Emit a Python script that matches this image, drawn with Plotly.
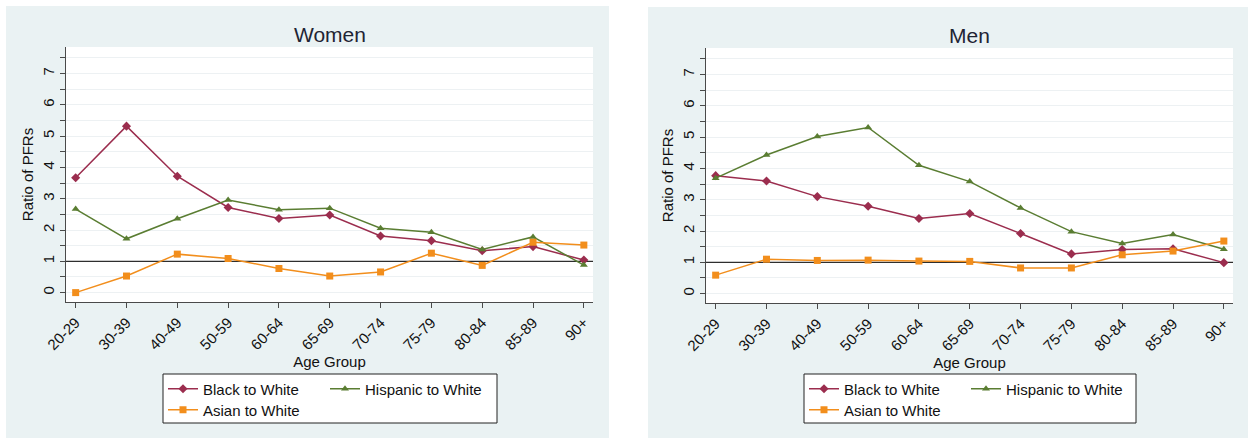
import plotly.graph_objects as go

W, H = 1249, 442

age_groups = ["20-29", "30-39", "40-49", "50-59", "60-64", "65-69",
              "70-74", "75-79", "80-84", "85-89", "90+"]

women_black = [3.67, 5.32, 3.72, 2.72, 2.37, 2.48, 1.81, 1.66, 1.34, 1.47, 1.04]
women_hispanic = [2.67, 1.72, 2.36, 2.96, 2.65, 2.70, 2.06, 1.93, 1.38, 1.78, 0.88]
women_asian = [0.00, 0.53, 1.23, 1.09, 0.77, 0.53, 0.66, 1.26, 0.87, 1.61, 1.52]

men_black = [3.77, 3.60, 3.10, 2.79, 2.40, 2.56, 1.92, 1.27, 1.41, 1.43, 0.99]
men_hispanic = [3.69, 4.43, 5.02, 5.31, 4.10, 3.58, 2.74, 1.98, 1.60, 1.89, 1.42]
men_asian = [0.59, 1.10, 1.06, 1.07, 1.04, 1.03, 0.82, 0.82, 1.24, 1.36, 1.68]

series_names = ["Black to White", "Hispanic to White", "Asian to White"]
series_colors = ["#9b2d4e", "#5a7d32", "#f28e1c"]
series_symbols = ["diamond", "triangle-up", "square"]

FONT = "Liberation Sans, Arial, sans-serif"
PANEL_BG = "#eaf2f3"
AXIS_COLOR = "#4a4a4a"
GRID_COLOR = "#edf1f3"
X_RANGE = [-0.19, 10.18]
Y_RANGE = [-0.3, 7.85]
PARITY = 1


def px_x(v):
    return v / W


def px_y(v):
    return 1 - v / H


fig = go.Figure()

panels = [
    ("x", "y", [women_black, women_hispanic, women_asian], ["legend", "legend", "legend2"]),
    ("x2", "y2", [men_black, men_hispanic, men_asian], ["legend3", "legend3", "legend4"]),
]

for xa, ya, values, legends in panels:
    for name, color, symbol, vals, lg in zip(series_names, series_colors,
                                             series_symbols, values, legends):
        fig.add_trace(go.Scatter(
            x=age_groups, y=vals, name=name, mode="lines+markers",
            xaxis=xa, yaxis=ya, legend=lg,
            line=dict(color=color, width=1.5),
            marker=dict(symbol=symbol, size=7, color=color, line=dict(width=0)),
        ))

# plot-area rectangles in pixels: (left, top, right, bottom)
areas = [(66, 47, 593, 302), (706, 48, 1233, 303)]


def x_axis(domain):
    return dict(
        domain=domain, type="category", range=X_RANGE, automargin=False,
        showline=True, linecolor=AXIS_COLOR, linewidth=1,
        ticks="outside", ticklen=5, tickcolor=AXIS_COLOR, tickangle=-45,
        tickfont=dict(size=15, color="#111"), showgrid=False, zeroline=False,
        title=dict(text="Age Group", font=dict(size=15, color="#111"), standoff=0),
    )


def y_axis(domain):
    return dict(
        domain=domain, range=Y_RANGE, tick0=0, dtick=1, automargin=False,
        showline=True, linecolor=AXIS_COLOR, linewidth=1,
        ticks="outside", ticklen=5, tickcolor=AXIS_COLOR, tickangle=-90,
        tickfont=dict(size=15, color="#111"),
        showgrid=True, gridcolor=GRID_COLOR, gridwidth=1, zeroline=False,
        minor=dict(dtick=0.5, ticks="outside", ticklen=5, tickcolor=AXIS_COLOR,
                   showgrid=True, gridcolor=GRID_COLOR, gridwidth=1),
        title=dict(text="Ratio of PFRs", font=dict(size=15, color="#111"), standoff=2),
    )


(l1, t1, r1, b1), (l2, t2, r2, b2) = areas
fig.update_layout(
    xaxis=dict(x_axis([px_x(l1), px_x(r1)]), anchor="y"),
    yaxis=dict(y_axis([px_y(b1), px_y(t1)]), anchor="x"),
    xaxis2=dict(x_axis([px_x(l2), px_x(r2)]), anchor="y2"),
    yaxis2=dict(y_axis([px_y(b2), px_y(t2)]), anchor="x2"),
)

shapes = []
# panel backgrounds
for x0, y0, x1, y1 in [(6, 6, 609, 438), (648, 7, 1248, 438)]:
    shapes.append(dict(type="rect", xref="paper", yref="paper",
                       x0=px_x(x0), x1=px_x(x1), y0=px_y(y1), y1=px_y(y0),
                       fillcolor=PANEL_BG, line=dict(width=0), layer="below"))
# white plot regions
for x0, y0, x1, y1 in areas:
    shapes.append(dict(type="rect", xref="paper", yref="paper",
                       x0=px_x(x0), x1=px_x(x1), y0=px_y(y1), y1=px_y(y0),
                       fillcolor="white", line=dict(width=0), layer="below"))
# reference line at ratio 1, between the grid and the data
for xa, ya in [("x", "y"), ("x2", "y2")]:
    shapes.append(dict(type="line", xref=xa, yref=ya,
                       x0=X_RANGE[0], x1=X_RANGE[1], y0=PARITY, y1=PARITY,
                       line=dict(color="#2e2e2e", width=1.3), layer="between"))
# legend frames
for x0, y0, x1, y1 in [(163, 374, 497, 423), (804, 374, 1136, 423)]:
    shapes.append(dict(type="rect", xref="paper", yref="paper",
                       x0=px_x(x0), x1=px_x(x1), y0=px_y(y1), y1=px_y(y0),
                       fillcolor="white", line=dict(width=1, color="#222"), layer="above"))

legend_common = dict(orientation="h", xanchor="left", yanchor="middle",
                     bgcolor="rgba(0,0,0,0)", borderwidth=0,
                     font=dict(size=15, color="#111", family=FONT),
                     entrywidth=117, itemwidth=30)

fig.update_layout(
    width=W, height=H,
    margin=dict(l=0, r=0, t=0, b=0, autoexpand=False),
    paper_bgcolor="white", plot_bgcolor="white",
    font=dict(family=FONT, size=15, color="#111"),
    shapes=shapes,
    legend=dict(legend_common, x=px_x(163), y=px_y(389)),
    legend2=dict(legend_common, x=px_x(163), y=px_y(410)),
    legend3=dict(legend_common, x=px_x(804), y=px_y(389)),
    legend4=dict(legend_common, x=px_x(804), y=px_y(410)),
    annotations=[
        dict(text="Women", x=px_x(329.5), y=px_y(34.5), xref="paper", yref="paper",
             showarrow=False, xanchor="center", yanchor="middle",
             font=dict(size=21, color="#1e2433")),
        dict(text="Men", x=px_x(970), y=px_y(35.5), xref="paper", yref="paper",
             showarrow=False, xanchor="center", yanchor="middle",
             font=dict(size=21, color="#1e2433")),
    ],
)

fig.write_html("out.html")
